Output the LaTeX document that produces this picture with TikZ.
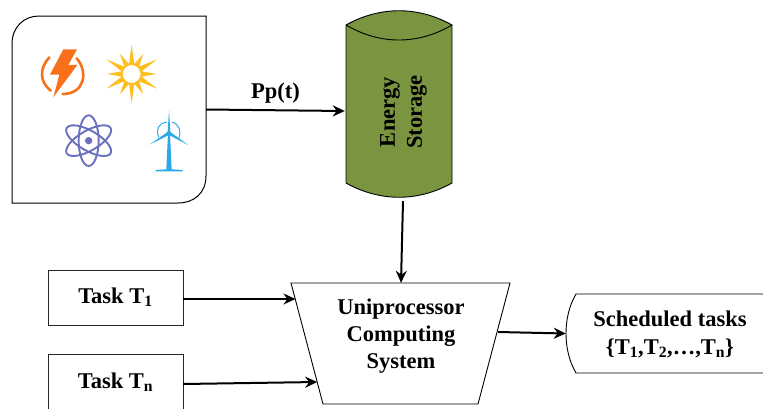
\documentclass[tikz,border=0pt]{standalone}
\usepackage{fontspec}
\setmainfont{Liberation Serif}
\usetikzlibrary{arrows.meta,calc}
\definecolor{olivefill}{HTML}{7A9440}
\definecolor{boltc}{HTML}{F9701A}
\definecolor{sunc}{HTML}{FDBE1E}
\definecolor{atomc}{HTML}{6A70C0}
\definecolor{turbc}{HTML}{2BA9E6}
\tikzset{
  x=1pt,y=-1pt,
  lbl/.style={font=\fontsize{22.5}{26}\selectfont\bfseries,align=center,inner sep=0pt},
  taskbox/.style={draw=black!85,line width=0.9pt,minimum width=135pt,minimum height=55pt,inner sep=0pt,lbl},
  conn/.style={line width=2pt,-{Stealth[length=12pt,width=11pt]}},
  outline/.style={draw=black,line width=0.9pt}
}
\begin{document}
\begin{tikzpicture}
\useasboundingbox (0,0) rectangle (763,410);
% energy sources
\node[inner sep=0pt,minimum width=194pt,minimum height=187pt] (src) at (109,109.5) {};
\draw[outline,line width=1pt] (39,16) -- (206,16) -- (206,176) .. controls (206,193) and (194,203) .. (178,203) -- (12,203) -- (12,44) .. controls (12,27) and (24,16) .. (39,16) -- cycle;
\begin{scope}[x=0.3333pt,y=-0.3333pt]
  % bolt
  \fill[boltc] (190,148) -- (231,148) -- (205,195) -- (232,195) -- (160,292) -- (178,224) -- (150,224) -- cycle;
  \draw[boltc,line width=2.6pt,line cap=round] (148,172) .. controls (118,205) and (118,245) .. (152,272);
  \draw[boltc,line width=2.6pt,line cap=round] (230,175) .. controls (265,215) and (255,282) .. (188,282);
  % sun
  \foreach \a/\r in {90/88,60/70,30/88,0/74,-30/88,-60/70,-90/88,-120/70,-150/88,180/74,150/88,120/70}{
    \fill[sunc] ($(395,222)+(\a:\r)$) -- ($(395,222)+(\a+14:32)$) -- ($(395,222)+(\a-14:32)$) -- cycle;
  }
  \draw[sunc,line width=2pt,fill=white] (395,222) circle[radius=30];
  % atom
  \foreach \a in {90,30,-30}{
    \draw[atomc,line width=1.9pt,rotate around={\a:(266,422)}] (266,422) ellipse[x radius=76,y radius=30];
  }
  \fill[atomc] (266,422) circle[radius=11];
  % turbine
  \fill[turbc] (504,400) -- (510,400) -- (515,508) -- (548,510) -- (548,514) -- (467,514) -- (467,510) -- (499,508) -- cycle;
  \fill[turbc] (507,332) -- (511,395) -- (503,395) -- cycle;
  \fill[turbc] (448,434) -- (503,396) -- (507,405) -- cycle;
  \fill[turbc] (566,436) -- (511,396) -- (507,405) -- cycle;
  \fill[turbc] (507,400) circle[radius=7];
  \draw[turbc,line width=1pt] (476,412) .. controls (466,385) and (480,368) .. (500,366);
  \draw[turbc,line width=1pt] (516,366) .. controls (538,372) and (545,395) .. (536,416);
\end{scope}
% storage
\node[inner sep=0pt,minimum width=106pt,minimum height=186pt] (store) at (399,104) {};
\draw[outline,fill=olivefill] (346,25) .. controls (380,6) and (418,6) .. (452,25) -- (452,183) .. controls (418,202) and (380,202) .. (346,183) -- cycle;
\draw[outline] (346,25) .. controls (380,45) and (418,45) .. (452,25);
\node[lbl,rotate=90] (storetxt) at (403.5,112) {Energy\\[1pt]Storage};
% tasks
\node[taskbox] (t1) at (115.5,297.5) {\raisebox{-1.5pt}{Task T\textsubscript{1}}};
\node[inner sep=0pt,minimum width=135pt,minimum height=56pt,lbl] (tn) at (115.5,382) {\raisebox{-2.5pt}{Task T\textsubscript{n}}};
\draw[black!85,line width=0.9pt] (48,409) -- (48,354) -- (183,354) -- (183,409);
% cpu
\node[inner sep=0pt,minimum width=219pt,minimum height=121pt] (cpu) at (400.5,343.5) {};
\draw[outline] (291,283) -- (510,283) -- (478,404) -- (323,404) -- cycle;
\node[lbl] (cputxt) at (401,336) {Uniprocessor\\[1pt]Computing\\[1pt]System};
% scheduled
\node[inner sep=0pt,minimum width=197pt,minimum height=79pt] (sched) at (664.5,333.5) {};
\draw[outline] (763,294) -- (576,294) .. controls (569,306) and (566,320) .. (566,333.5) .. controls (566,347) and (569,361) .. (576,373) -- (763,373);
\node[lbl] (schedtxt) at (670,334) {Scheduled tasks\\[2pt]\{T\textsubscript{1},T\textsubscript{2},…,T\textsubscript{n}\}};
% connectors
\draw[conn] (src.east) -- node[lbl,above=5.5pt,midway] (pp) {Pp(t)} ($(store.west)+(-1,7)$);
\draw[conn] ($(store.south)+(4,4)$) -- ($(cpu.north)+(0.5,0)$);
\draw[conn] ($(t1.east)+(0,1.5)$) -- ($(t1.east)+(112,1.5)$);
\draw[conn] ($(tn.east)+(0,2)$) -- ($(tn.east)+(134,0)$);
\draw[conn] ($(cpu.east)+(-12,-11.5)$) -- (sched.west);
\end{tikzpicture}
\end{document}
